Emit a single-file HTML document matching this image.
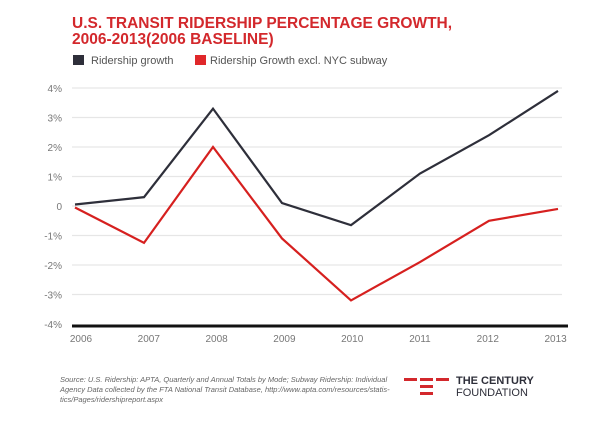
<!DOCTYPE html>
<html><head><meta charset="utf-8"><style>
body{margin:0;background:#fff;width:600px;height:416px;overflow:hidden;font-family:"Liberation Sans",sans-serif}
</style></head><body>
<svg width="600" height="416" xmlns="http://www.w3.org/2000/svg">
<text x="72" y="28" font-size="15.5" font-weight="bold" fill="#d3282c">U.S. TRANSIT RIDERSHIP PERCENTAGE GROWTH,</text>
<text x="72" y="44" font-size="15.5" font-weight="bold" fill="#d3282c">2006-2013(2006 BASELINE)</text>
<g>
<rect x="73" y="55" width="11" height="10" fill="#2e2f3a"/>
<text x="91" y="64" font-size="11" fill="#555">Ridership growth</text>
<rect x="195" y="55" width="11" height="10" fill="#e0282a"/>
<text x="210" y="64" font-size="11" fill="#555">Ridership Growth excl. NYC subway</text>
</g>
<g id="grid"></g><g id="lines"></g>
<text x="60" y="382" font-size="7.5" font-style="italic" fill="#666">Source: U.S. Ridership: APTA, Quarterly and Annual Totals by Mode; Subway Ridership: Individual</text>
<text x="60" y="392" font-size="7.5" font-style="italic" fill="#666">Agency Data collected by the FTA National Transit Database, http://www.apta.com/resources/statis-</text>
<text x="60" y="402" font-size="7.5" font-style="italic" fill="#666">tics/Pages/ridershipreport.aspx</text>
<g>
<rect x="404" y="378" width="13" height="3" fill="#d3282c"/><rect x="420" y="378" width="13" height="3" fill="#d3282c"/><rect x="436" y="378" width="13" height="3" fill="#d3282c"/>
<rect x="420" y="385" width="13" height="3" fill="#d3282c"/>
<rect x="420" y="392" width="13" height="3" fill="#d3282c"/>
<text x="456" y="384" font-size="11" font-weight="bold" fill="#2e2f3a">THE CENTURY</text>
<text x="456" y="396" font-size="11" fill="#2e2f3a">FOUNDATION</text>
</g>
</svg>
<script>
const years=["2006","2007","2008","2009","2010","2011","2012","2013"];
const ridership=[0.05,0.3,3.3,0.1,-0.65,1.1,2.4,3.9];
const exclNyc=[-0.05,-1.25,2.0,-1.1,-3.2,-1.9,-0.5,-0.1];
const yTicks=[4,3,2,1,0,-1,-2,-3,-4];
const yTickLabels=["4%","3%","2%","1%","0","-1%","-2%","-3%","-4%"];
const NS="http://www.w3.org/2000/svg";
const xs=i=>75+i*69, ys=v=>206-29.5*v;
const grid=document.getElementById('grid'),lines=document.getElementById('lines');
function mk(t,a,p){const e=document.createElementNS(NS,t);for(const k in a)e.setAttribute(k,a[k]);p.appendChild(e);return e;}
yTicks.forEach((v,i)=>{
 if(v!==-4){const l=mk('line',{x1:72,x2:562,y1:ys(v),y2:ys(v),stroke:'#e6e6e6','stroke-width':1.2},grid);
 
 }
 const t=mk('text',{x:62,y:ys(v)+4,'font-size':10,fill:'#777','text-anchor':'end'},grid);t.textContent=yTickLabels[i];
 
 
});
const ax=mk('line',{x1:72,x2:568,y1:ys(-4)+2,y2:ys(-4)+2,stroke:'#111','stroke-width':3},grid);


years.forEach((y,i)=>{const t=mk('text',{x:81+i*67.8,y:342,'font-size':10,fill:'#777','text-anchor':'middle'},grid);t.textContent=y;
 
 });
[[ridership,'#2e2f3a','ridership-line'],[exclNyc,'#d6201f','excl-nyc-line']].forEach(([d,c,n])=>{
 const p=mk('polyline',{points:d.map((v,i)=>xs(i)+','+ys(v)).join(' '),fill:'none',stroke:c,'stroke-width':2.2,'stroke-linejoin':'miter'},lines);
 
 
});
</script>
</body></html>
